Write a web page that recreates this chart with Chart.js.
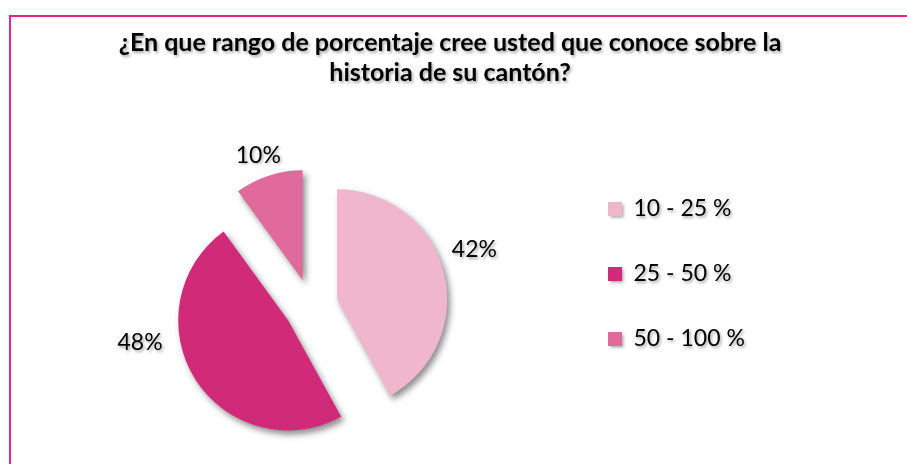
<!DOCTYPE html>
<html><head><meta charset="utf-8">
<script src="https://cdn.jsdelivr.net/npm/chart.js@4.4.1/dist/chart.umd.min.js"></script>
<style>
html,body{margin:0;padding:0;background:#fff;}
#wrap{position:relative;width:907px;height:464px;overflow:hidden;background:#fff;}
#frame{position:absolute;left:9px;top:15px;width:1000px;height:1000px;border-top:2px solid #E5268B;border-left:2px solid #E5268B;}
#c{position:absolute;left:0;top:0;}
</style></head><body>
<div id="wrap"><div id="frame"></div><canvas id="c" width="907" height="464" style="width:907px;height:464px"></canvas></div>
<script>
const titleLines = ['¿En que rango de porcentaje cree usted que conoce sobre la', 'historia de su cantón?'];
const categories = ['10 - 25 %', '25 - 50 %', '50 - 100 %'];
const percentages = [42, 48, 10];
const sliceColors = ['#F0B7CC', '#D12A78', '#DF6A9B'];

const FONT = 'Lato, "Open Sans", "DejaVu Sans", sans-serif';
Chart.defaults.color = '#000';
Chart.defaults.font.family = FONT;

const textShadow = (ctx) => { ctx.shadowColor = 'rgba(0,0,0,0.35)'; ctx.shadowBlur = 3; ctx.shadowOffsetX = 1.5; ctx.shadowOffsetY = 1.5; };

const placement = {
  id: 'placement',
  afterLayout(chart, args, o) {
    chart.chartArea = {left: o.cx - o.half, right: o.cx + o.half, top: o.cy - o.half, bottom: o.cy + o.half, width: 2*o.half, height: 2*o.half};
    const lg = chart.legend;
    if (lg) {
      lg.left = o.legendLeft; lg.right = o.legendLeft + o.legendWidth; lg.width = o.legendWidth;
      lg.top = o.legendTop; lg.bottom = o.legendBottom; lg.height = o.legendBottom - o.legendTop;
    }
  }
};

const shadowText = {
  id: 'shadowText',
  beforeDraw(chart) { chart.ctx.save(); textShadow(chart.ctx); },
  afterDraw(chart) { chart.ctx.restore(); }
};

const explode = {
  id: 'explode',
  beforeDatasetDraw(chart, args, o) {
    const ctx = chart.ctx;
    ctx.save();
    ctx.shadowColor = 'rgba(0,0,0,0.45)'; ctx.shadowBlur = 6; ctx.shadowOffsetX = 3; ctx.shadowOffsetY = 4;
    args.meta.data.forEach(arc => {
      const p = arc.getProps(['startAngle', 'endAngle'], true);
      const mid = (p.startAngle + p.endAngle) / 2;
      ctx.save();
      ctx.translate(Math.cos(mid) * o.distance, Math.sin(mid) * o.distance);
      arc.draw(ctx);
      ctx.restore();
    });
    ctx.restore();
    return false;
  }
};

const pctLabels = {
  id: 'pctLabels',
  afterDatasetsDraw(chart, args, o) {
    const ctx = chart.ctx;
    const meta = chart.getDatasetMeta(0);
    ctx.save();
    textShadow(ctx);
    ctx.font = o.size + 'px ' + FONT;
    ctx.fillStyle = '#000';
    ctx.textAlign = 'center';
    ctx.textBaseline = 'middle';
    meta.data.forEach((arc, i) => {
      const p = arc.getProps(['x', 'y', 'startAngle', 'endAngle', 'outerRadius'], true);
      const a = (p.startAngle + p.endAngle) / 2 + o.angleShift[i] * Math.PI / 180;
      const d = p.outerRadius * o.distFactor[i];
      ctx.fillText(chart.data.datasets[0].data[i] + '%', p.x + Math.cos(a) * d, p.y + Math.sin(a) * d);
    });
    ctx.restore();
  }
};

new Chart(document.getElementById('c'), {
  type: 'pie',
  data: {
    labels: categories,
    datasets: [{ data: percentages, backgroundColor: sliceColors, borderWidth: 0, hoverOffset: 0, clip: false }]
  },
  options: {
    responsive: false,
    animation: false,
    events: [],
    radius: 110,
    layout: { padding: { left: 0, right: 7, top: 0, bottom: 0 } },
    plugins: {
      title: {
        display: true,
        text: titleLines,
        color: '#000',
        font: { family: FONT, size: 25, weight: 'bold', lineHeight: 1.2 },
        padding: { top: 28, bottom: 10 }
      },
      legend: {
        display: true,
        position: 'right',
        labels: { boxWidth: 14, boxHeight: 14, padding: 42, color: '#000', font: { family: FONT, size: 23 } }
      },
      tooltip: { enabled: false },
      placement: { cx: 311, cy: 306, half: 150, legendLeft: 566, legendWidth: 340, legendTop: 120, legendBottom: 428 },
      explode: { distance: 27 },
      pctLabels: { size: 23, angleShift: [-4.5, 20.2, -1.3], distFactor: [1.57, 1.59, 1.45] }
    }
  },
  plugins: [placement, shadowText, explode, pctLabels]
});
</script>
</body></html>
